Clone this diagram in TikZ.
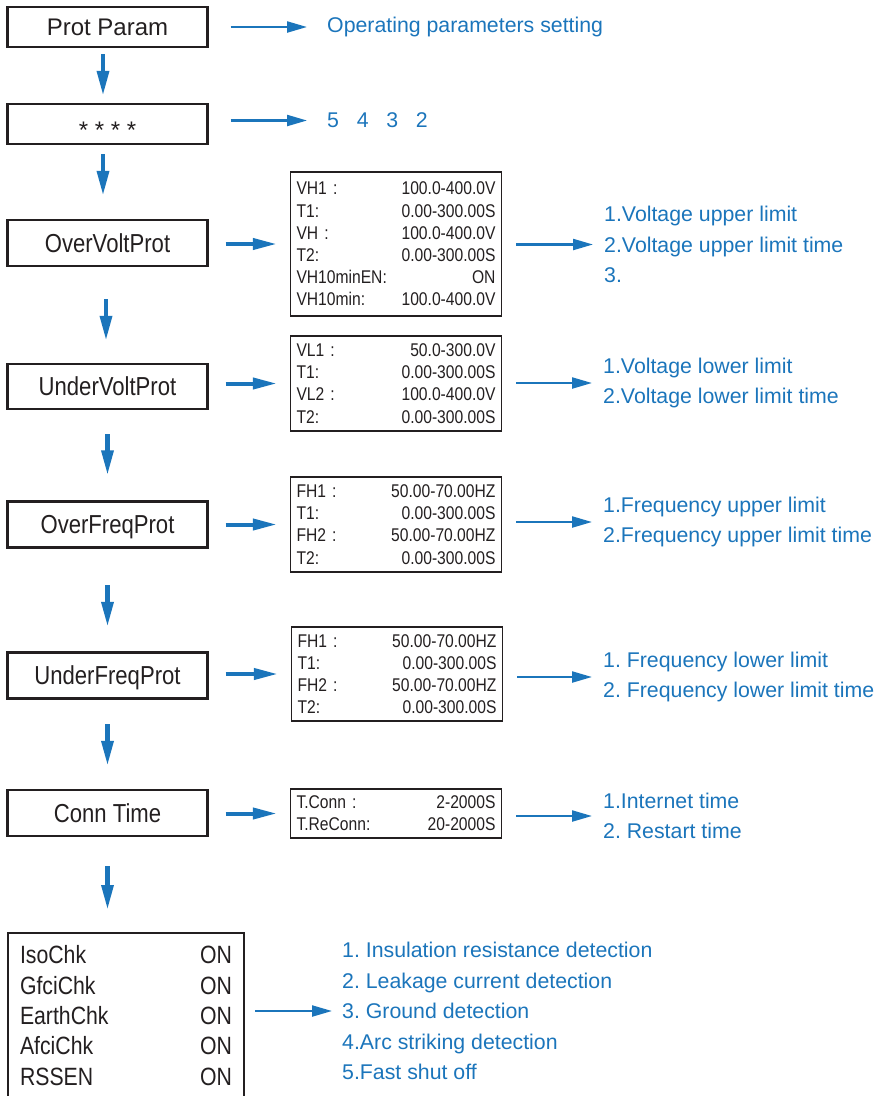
\documentclass[tikz,border=0pt]{standalone}
\usepackage{fontspec}
\setmainfont{Liberation Sans}
\newfontfamily\narrowfont[FakeStretch=0.85]{Liberation Sans}
\usetikzlibrary{arrows.meta}
\definecolor{flowBlue}{HTML}{1B75BB}
\definecolor{boxDark}{HTML}{231F20}
\frenchspacing

\begin{document}
\begin{tikzpicture}[
    x=1pt, y=-1pt,
    menuBox/.style={draw=boxDark, line width=2.2pt, rectangle, minimum width=200pt, minimum height=46pt, inner sep=0pt, text height=18.6pt, text depth=0pt, text=boxDark, font=\narrowfont\fontsize{26pt}{30pt}\selectfont},
    paramBox/.style={draw=boxDark, line width=1.4pt, rectangle, align=left, text width=199pt, inner xsep=6pt, inner ysep=0pt, text=boxDark, font=\narrowfont\fontsize{18.4pt}{22.2pt}\selectfont},
    checkBox/.style={draw=boxDark, line width=2.2pt, rectangle, align=left, text width=212pt, inner xsep=12pt, inner ysep=12.75pt, text depth=146pt, text=boxDark, font=\narrowfont\fontsize{25pt}{30.3pt}\selectfont},
    noteText/.style={anchor=west, align=left, inner sep=0pt, text=flowBlue, font=\fontsize{21.3pt}{30.5pt}\selectfont},
    flowArrow/.style={draw=flowBlue, line width=4.6pt, -{Triangle[length=25pt, width=11.5pt]}},
    feedArrow/.style={draw=flowBlue, line width=4pt, -{Triangle[length=24pt, width=11pt]}, shorten <=17pt, shorten >=13pt},
    noteArrow/.style={draw=flowBlue, line width=2.2pt, -{Triangle[length=20pt, width=11pt]}},
]
\useasboundingbox (0,0) rectangle (887,1096);
\node[menuBox, minimum height=40pt, font=\fontsize{24pt}{28pt}\selectfont, text height=17.2pt] (protParam) at (107.5,27) {Prot Param};
\node[menuBox, minimum height=40pt, font=\fontsize{24pt}{28pt}\selectfont, text height=28pt]   (password)  at (107.5,124) {* * * *};
\node[menuBox]                     (overVolt)  at (107.5,243)   {OverVoltProt};
\node[menuBox, minimum height=45pt] (underVolt) at (107.5,386.5) {UnderVoltProt};
\node[menuBox]                     (overFreq)  at (107.5,524.5) {OverFreqProt};
\node[menuBox]                     (underFreq) at (107.5,675.5) {UnderFreqProt};
\node[menuBox]                     (connTime)  at (107.5,813)   {Conn Time};
\node[checkBox, anchor=north]      (checks)    at (126,932)
    {IsoChk\hfill ON\\ GfciChk\hfill ON\\ EarthChk\hfill ON\\ AfciChk\hfill ON\\ RSSEN\hfill ON};
\node[paramBox, minimum height=144pt] (vhBox) at (396,244)
    {VH1 :\hfill 100.0-400.0V\\ T1:\hfill 0.00-300.00S\\ VH :\hfill 100.0-400.0V\\ T2:\hfill 0.00-300.00S\\ VH10minEN:\hfill ON\\ VH10min:\hfill 100.0-400.0V};
\node[paramBox, minimum height=95pt]  (vlBox) at (396,383.5)
    {VL1 :\hfill 50.0-300.0V\\ T1:\hfill 0.00-300.00S\\ VL2 :\hfill 100.0-400.0V\\ T2:\hfill 0.00-300.00S};
\node[paramBox, minimum height=95pt]  (fhBox) at (396,524.5)
    {FH1 :\hfill 50.00-70.00HZ\\ T1:\hfill 0.00-300.00S\\ FH2 :\hfill 50.00-70.00HZ\\ T2:\hfill 0.00-300.00S};
\node[paramBox, minimum height=94pt]  (ufBox) at (397,674)
    {FH1 :\hfill 50.00-70.00HZ\\ T1:\hfill 0.00-300.00S\\ FH2 :\hfill 50.00-70.00HZ\\ T2:\hfill 0.00-300.00S};
\node[paramBox, minimum height=49pt]  (connBox) at (396,813.5)
    {T.Conn :\hfill 2-2000S\\ T.ReConn:\hfill 20-2000S};
\node[noteText] (opNote)    at (327,27)    {Operating parameters setting};
\node[noteText] (pwNote)    at (327,120.5) {5~~~4~~~3~~~2};
\node[noteText] (vhNote)    at (604,244.5) {1.Voltage upper limit\\2.Voltage upper limit time\\3.};
\node[noteText] (vlNote)    at (603,383)   {1.Voltage lower limit\\2.Voltage lower limit time};
\node[noteText] (fhNote)    at (603,522)   {1.Frequency upper limit\\2.Frequency upper limit time};
\node[noteText] (ufNote)    at (603,677)   {1. Frequency lower limit\\2. Frequency lower limit time};
\node[noteText] (connNote)  at (603,816)   {1.Internet time\\2. Restart time};
\node[noteText] (checkNote) at (342,1011)
    {1. Insulation resistance detection\\2. Leakage current detection\\3. Ground detection\\4.Arc striking detection\\5.Fast shut off};
\draw[flowArrow, shorten <=6pt, shorten >=7pt]       ([xshift=-4.5pt]protParam.south) -- ([xshift=-4.5pt]password.north);
\draw[flowArrow, shorten <=9pt, shorten >=23pt]      ([xshift=-4.5pt]password.south) -- ([xshift=-4.5pt]overVolt.north);
\draw[flowArrow, shorten <=32pt, shorten >=22pt]     ([xshift=-1.5pt]overVolt.south) -- ([xshift=-1.5pt]underVolt.north);
\draw[flowArrow, shorten <=24pt, shorten >=25pt]     (underVolt.south) -- (overFreq.north);
\draw[flowArrow, shorten <=36.5pt, shorten >=24.5pt] (overFreq.south) -- (underFreq.north);
\draw[flowArrow, shorten <=24.5pt, shorten >=23pt]   (underFreq.south) -- (connTime.north);
\draw[flowArrow, shorten <=29pt, shorten >=22pt]     (connTime.south) -- (connTime.south |- checks.north);
\draw[feedArrow] (overVolt.east |- vhBox.west)    -- (vhBox.west);
\draw[feedArrow] (underVolt.east |- vlBox.west)   -- (vlBox.west);
\draw[feedArrow] (overFreq.east |- fhBox.west)    -- (fhBox.west);
\draw[feedArrow] (underFreq.east |- ufBox.west)   -- (ufBox.west);
\draw[feedArrow] (connTime.east |- connBox.west)  -- (connBox.west);
\draw[noteArrow, shorten <=22pt, shorten >=20pt] (protParam.east |- opNote.west) -- (opNote.west);
\draw[noteArrow, shorten <=22pt, shorten >=20pt] (password.east |- pwNote.west)  -- (pwNote.west);
\draw[noteArrow, shorten <=14pt, shorten >=11pt] (vhBox.east |- vhNote.west)     -- (vhNote.west);
\draw[noteArrow, shorten <=14pt, shorten >=11pt] (vlBox.east |- vlNote.west)     -- (vlNote.west);
\draw[noteArrow, shorten <=14pt, shorten >=11pt] (fhBox.east |- fhNote.west)     -- (fhNote.west);
\draw[noteArrow, shorten <=14pt, shorten >=11pt] (ufBox.east |- ufNote.west)     -- (ufNote.west);
\draw[noteArrow, shorten <=14pt, shorten >=11pt] (connBox.east |- connNote.west) -- (connNote.west);
\draw[noteArrow, shorten <=10pt, shorten >=10pt] (checks.east |- checkNote.west) -- (checkNote.west);
\end{tikzpicture}
\end{document}
